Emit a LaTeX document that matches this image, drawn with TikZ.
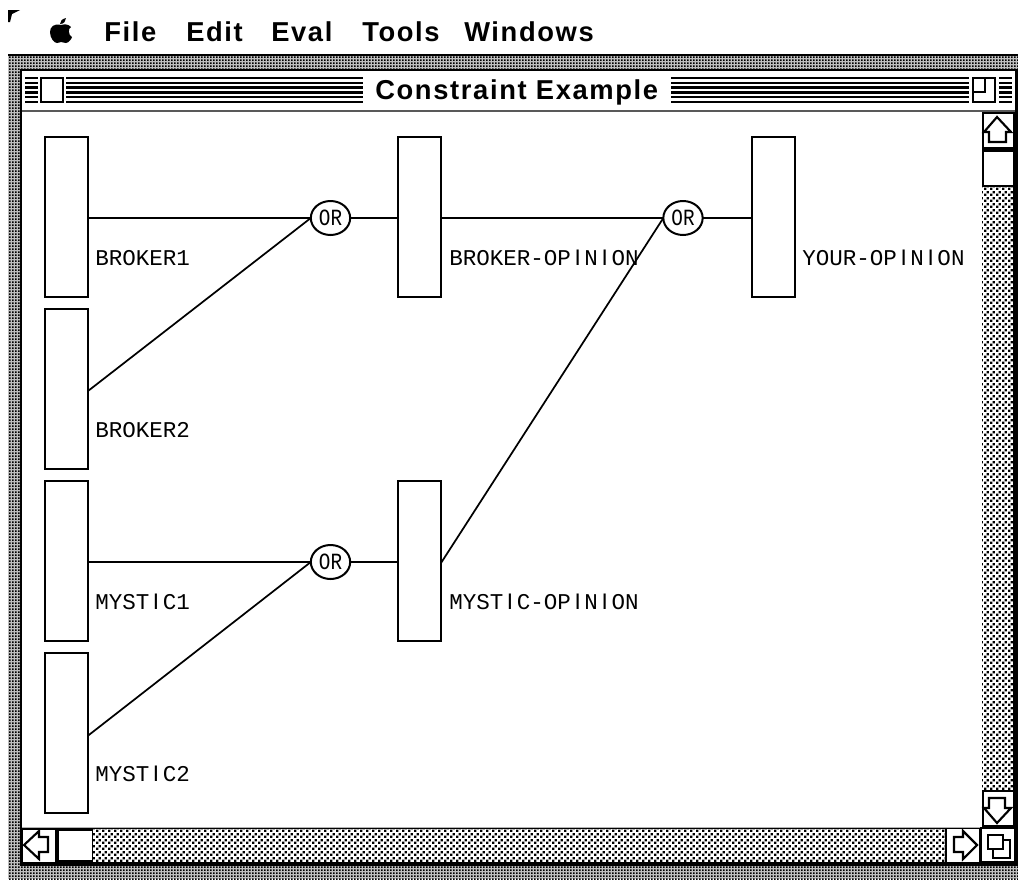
\documentclass[tikz,border=0pt]{standalone}
\usepackage{fontspec}
\usetikzlibrary{patterns,shapes.geometric}
\setmainfont{Liberation Sans}
\newfontfamily\labfont{Liberation Mono}
\newfontfamily\labsans{Liberation Sans}
\newfontfamily\menufont[LetterSpace=6]{Liberation Sans Bold}
\newcommand\sI{\makebox[0.6em][c]{\labsans I}}
\newcommand\orword{\scalebox{1}[1.2]{OR}}
\pgfdeclarepatternformonly{framedots}{\pgfqpoint{0pt}{0pt}}{\pgfqpoint{2.25pt}{2.25pt}}{\pgfqpoint{2.25pt}{2.25pt}}{%
  \pgfpathrectangle{\pgfqpoint{0pt}{0pt}}{\pgfqpoint{1.5pt}{1.5pt}}\pgfusepath{fill}}
\pgfdeclarepatternformonly{scrolldots}{\pgfqpoint{0pt}{0pt}}{\pgfqpoint{4.5pt}{4.5pt}}{\pgfqpoint{4.5pt}{4.5pt}}{%
  \pgfpathrectangle{\pgfqpoint{0pt}{0pt}}{\pgfqpoint{2pt}{2pt}}\pgfusepath{fill}
  \pgfpathrectangle{\pgfqpoint{2.25pt}{2.25pt}}{\pgfqpoint{2pt}{2pt}}\pgfusepath{fill}}
\tikzset{
  cell/.style={draw=black,line width=2.1pt,fill=white,minimum width=32.25pt,minimum height=120pt,inner sep=0pt,outer sep=0pt},
  orbox/.style={ellipse,draw=black,line width=1.5pt,fill=white,minimum width=29.5pt,minimum height=25.5pt,inner sep=0pt,outer sep=0pt,font=\labfont\fontsize{14.5}{14.5}\selectfont},
  lab/.style={anchor=west,inner sep=0pt,font=\labfont\fontsize{16.9}{17}\selectfont},
  menu/.style={anchor=west,inner sep=0pt,font=\menufont\fontsize{20.5}{21}\selectfont},
  wire/.style={line width=2pt,black},
  slant/.style={line width=1.3pt,black},
  chrome/.style={line width=1.5pt,black},
  stripes/.style={line width=1.7pt,black},
  arrowglyph/.style={line width=1.6pt,black,fill=white,line join=miter},
}
\begin{document}
\begin{tikzpicture}[x=0.75pt,y=-0.75pt]
\useasboundingbox (0,0) rectangle (1018,879);
% corner mark and apple
\fill[black] (8,10) -- (20,10) -- (12,14) -- (10,22) -- (8,22) -- cycle;
\fill[black] (61,25) .. controls (54,23) and (50,27) .. (50,32) .. controls (50,38) and (54,43) .. (57,43) .. controls (59,43) and (60,42) .. (61,42) .. controls (63,42) and (64,43) .. (66,43) .. controls (69,43) and (72,38) .. (72,37) .. controls (68,35) and (68,28) .. (71,27) .. controls (68,24) and (65,24) .. (61,25) -- cycle;
\fill[black] (60,24) .. controls (60,21) and (62,19) .. (66,18) .. controls (66,21) and (64,24) .. (60,24) -- cycle;
% menu bar
\node[menu] (mfile) at (104,32) {File};
\node[menu] (medit) at (186,32) {Edit};
\node[menu] (meval) at (271,32) {Eval};
\node[menu] (mtools) at (362,32) {Tools};
\node[menu] (mwin) at (464,32) {Windows};
% window frame
\fill[gray!50] (8,55) rectangle (1018,879);
\fill[pattern=framedots,pattern color=black] (8,55) rectangle (1018,879);
\fill[black] (8,54) rectangle (1018,55.5);
\fill[black] (20,69) rectangle (1018,866);
\fill[white] (22,71) rectangle (1015,827);
\draw[chrome,gray!70!black] (22,110.5) -- (1015,110.5);
% title bar
\foreach \yy in {78,82.8,87.6,92.4,97.2,102}{
  \draw[stripes] (25,\yy) -- (38,\yy);
  \draw[stripes] (66,\yy) -- (363,\yy);
  \draw[stripes] (671,\yy) -- (969,\yy);
  \draw[stripes] (999,\yy) -- (1012,\yy);
}
\draw[chrome,fill=white,line width=1.8pt] (41,78) rectangle (63,102);
\draw[chrome,fill=white,line width=1.8pt] (973,78) rectangle (995,102);
\draw[chrome] (973,92) -- (985,92) -- (985,78);
\node[menu] (title) at (375,92) {Constraint Example};
% vertical scroll bar
\fill[black] (982,112) rectangle (1018,827);
\fill[white] (984,114) rectangle (1013,147);
\fill[white] (984,152) rectangle (1013,185);
\fill[white] (982,187) rectangle (1013,790);
\fill[pattern=scrolldots,pattern color=black] (982,187) rectangle (1013,790);
\fill[white] (984,792) rectangle (1013,825);
\draw[arrowglyph] (997,117) -- (1011,132) -- (1006,132) -- (1006,142) -- (989,142) -- (989,132) -- (984,132) -- cycle;
\draw[arrowglyph] (997,823) -- (1011,808) -- (1005,808) -- (1005,798) -- (989,798) -- (989,808) -- (984,808) -- cycle;
% horizontal scroll bar
\fill[black] (20,827) rectangle (982,866);
\fill[white] (23,830) rectangle (55,862);
\fill[white] (59,831) rectangle (92,860);
\fill[white] (93,829) rectangle (945,862);
\fill[pattern=scrolldots,pattern color=black] (93,829) rectangle (945,862);
\fill[white] (947,829) rectangle (979,862);
\fill[black] (979,827) rectangle (982,866);
\fill[white] (982,829) rectangle (1014,861);
\draw[arrowglyph] (24,845) -- (39,831) -- (39,837) -- (48,837) -- (48,852) -- (39,852) -- (39,859) -- cycle;
\draw[arrowglyph] (977,845) -- (963,831) -- (963,837) -- (954,837) -- (954,852) -- (963,852) -- (963,859) -- cycle;
\draw[arrowglyph] (993,840) rectangle (1010,858);
\draw[arrowglyph] (988,835) rectangle (1003,849);
\draw[gray!60,line width=0.8pt] (22,827.5) -- (980,827.5);
% cells
\node[cell] (b1) at (66.5,217) {};
\node[cell] (b2) at (66.5,389) {};
\node[cell] (m1) at (66.5,561) {};
\node[cell] (m2) at (66.5,733) {};
\node[cell] (bo) at (419.5,217) {};
\node[cell] (mo) at (419.5,561) {};
\node[cell] (yo) at (773.5,217) {};
% OR nodes
\node[orbox] (or1) at (330.5,218) {\orword};
\node[orbox] (or2) at (683,218) {\orword};
\node[orbox] (or3) at (330.5,562) {\orword};
% connectors
\draw[wire] ([yshift=-0.75pt]b1.east) -- (or1.west);
\draw[slant] ([yshift=-1.5pt]b2.east) -- (or1.west);
\draw[wire] ([yshift=-0.75pt]m1.east) -- (or3.west);
\draw[slant] ([yshift=-2pt]m2.east) -- (or3.west);
\draw[wire] (or1.east) -- ([yshift=-0.75pt]bo.west);
\draw[wire] (or3.east) -- ([yshift=-0.75pt]mo.west);
\draw[wire] ([yshift=-0.75pt]bo.east) -- (or2.west);
\draw[slant] ([yshift=-1.5pt]mo.east) -- (or2.west);
\draw[wire] (or2.east) -- ([yshift=-0.75pt]yo.west);
% labels
\node[lab] (lb1) at (95,258) {BROKER1};
\node[lab] (lb2) at (95,430) {BROKER2};
\node[lab] (lm1) at (95,602) {MYST\sI C1};
\node[lab] (lm2) at (95,774) {MYST\sI C2};
\node[lab] (lbo) at (449,258) {BROKER-OP\sI N\sI ON};
\node[lab] (lmo) at (449,602) {MYST\sI C-OP\sI N\sI ON};
\node[lab] (lyo) at (802,258) {YOUR-OP\sI N\sI ON};
\end{tikzpicture}
\end{document}
